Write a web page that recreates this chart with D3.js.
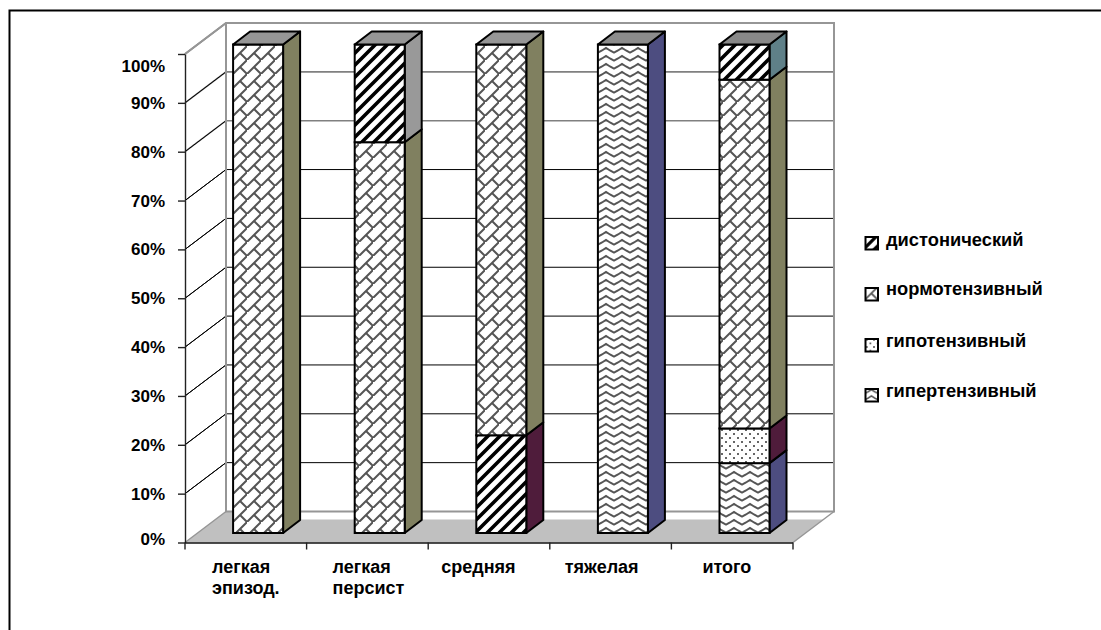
<!DOCTYPE html>
<html>
<head>
<meta charset="utf-8">
<script src="https://cdn.jsdelivr.net/npm/d3@7/dist/d3.min.js"></script>
<style>
  html, body { margin: 0; padding: 0; background: #fff; }
  svg { display: block; }
  text { font-family: "Liberation Sans", Arial, sans-serif; font-weight: bold; fill: #000; }
</style>
</head>
<body>
<svg id="chart" width="1101" height="630"></svg>
<script>
// Chart content
const categories = ["легкая эпизод.", "легкая персист", "средняя", "тяжелая", "итого"];
const categoryLines = [["легкая", "эпизод."], ["легкая", "персист"], ["средняя"], ["тяжелая"], ["итого"]];
const seriesNames = ["гипертензивный", "гипотензивный", "нормотензивный", "дистонический"];
const hypertensive = [0, 0, 0, 100, 14.3];
const hypotensive = [0, 0, 20, 0, 7.1];
const normotensive = [100, 80, 80, 0, 71.4];
const dystonic = [0, 20, 0, 0, 7.2];
const yTicks = [0, 10, 20, 30, 40, 50, 60, 70, 80, 90, 100];

// Series appearance
const facePattern = { "гипертензивный": "wave", "гипотензивный": "dots", "нормотензивный": "brick", "дистонический": "stripes" };
const sideColor = { "гипертензивный": "#4d4d80", "гипотензивный": "#4f1c3b", "нормотензивный": "#808060", "дистонический": "#999999" };
// Individual points that carry their own formatting in the stack
const pointFace = { "гипотензивный|средняя": "stripes" };
const pointSide = { "дистонический|итого": "#5f8088" };
const topFaceColor = ["#969696", "#969696", "#969696", "#8c8c8c", "#888888"];
const labelInset = [27, 26, 13, 15, 31];
const softGridTicks = [80, 90, 100];

// Layout of the oblique box
const depth = { dx: 41, dy: 31 };
const barDepth = { dx: 17, dy: 13 };
const barShift = { dx: 12.3, dy: 9.5 };

const rows = categories.map((c, i) => ({
  category: c,
  "гипертензивный": hypertensive[i],
  "гипотензивный": hypotensive[i],
  "нормотензивный": normotensive[i],
  "дистонический": dystonic[i]
}));

const x = d3.scaleBand().domain(categories).range([185, 793]).paddingInner(0).paddingOuter(0);
const y = d3.scaleLinear().domain([0, 100]).range([542.5, 54]);
const barWidth = 50;
const barX = c => x(c) + x.bandwidth() / 2 - barWidth / 2 + barShift.dx;

const svg = d3.select("#chart");
const defs = svg.append("defs");

function addPattern(id, w, h, transform, draw) {
  const p = defs.append("pattern").attr("id", id)
    .attr("patternUnits", "userSpaceOnUse").attr("width", w).attr("height", h);
  if (transform) p.attr("patternTransform", transform);
  p.append("rect").attr("width", w).attr("height", h).attr("fill", "#fff");
  draw(p);
}
function stripes(p) {
  p.append("path").attr("d", "M-3,3L3,-3M-2,14L14,-2M9,15L15,9")
    .attr("stroke", "#000").attr("stroke-width", 3.6).attr("fill", "none");
}
// One long rising course per tile, with a staggered short joint between courses
function brick(p) {
  p.append("path").attr("d", "M-2,16L16,-2M7,7L14,14")
    .attr("stroke", "#555").attr("stroke-width", 2).attr("fill", "none");
}
function wave(p) {
  p.append("path").attr("d", "M-1,7L0,6.5L4,4.5L8,2L12,4.5L16,6.5L17,7")
    .attr("stroke", "#555").attr("stroke-width", 2).attr("fill", "none");
}
function dots(p) {
  [[1, 1], [5, 5]].forEach(d => p.append("rect")
    .attr("x", d[0]).attr("y", d[1]).attr("width", 2).attr("height", 2).attr("fill", "#666"));
}
addPattern("stripes", 12, 12, null, stripes);
addPattern("brick", 14, 14, "translate(233,46)", brick);
addPattern("wave", 16, 8, "translate(598,46)", wave);
addPattern("dots", 8, 8, "translate(720,428)", dots);
addPattern("stripes-key", 12, 12, "translate(865,237) scale(0.9)", stripes);
addPattern("brick-key", 14, 14, "translate(865,287) scale(0.9)", brick);
addPattern("dots-key", 8, 8, "translate(865,338) scale(0.9)", dots);
addPattern("wave-key", 16, 8, "translate(865,388) scale(0.8)", wave);

// Outer frame: only the top and left edges fall inside the page
svg.append("path").attr("d", "M1101,10.5H9.5V630").attr("fill", "none").attr("stroke", "#000").attr("stroke-width", 2);

// Floor of the box
const wall = { left: 185 + depth.dx, right: 793 + depth.dx, top: y(100) - depth.dy, bottom: y(0) - depth.dy };
svg.append("polygon").attr("fill", "#c0c0c0").attr("points", [
  [185, y(0)], [wall.left, wall.bottom], [240, wall.bottom], [240, wall.bottom + 8],
  [wall.right - 11, wall.bottom + 8], [793, y(0)]
].join(" "));

// Gridlines run up the left side wall and across the back wall
svg.append("g").selectAll("path").data(yTicks.filter(t => t > 0)).join("path")
  .attr("fill", "none")
  .attr("stroke", t => softGridTicks.includes(t) ? "#808080" : "#000")
  .attr("stroke-width", t => softGridTicks.includes(t) ? 1.6 : 1)
  .attr("d", t => `M185,${y(t)}L${wall.left},${y(t) - depth.dy}H${wall.right}`);
svg.append("g").selectAll("path").data(yTicks.filter(t => t > 0 && t < 100)).join("path")
  .attr("fill", "none").attr("stroke", "#000").attr("stroke-width", 1)
  .attr("d", t => `M185,${y(t)}L${wall.left},${y(t) - depth.dy}`);

// Wall outline
svg.append("path").attr("fill", "none").attr("stroke", "#969696").attr("stroke-width", 2)
  .attr("d", `M185,${y(100)}L${wall.left},${wall.top}H${wall.right}V${wall.bottom}H${wall.left}V${wall.top}`);
svg.append("path").attr("fill", "none").attr("stroke", "#969696").attr("stroke-width", 1.5)
  .attr("d", `M185,${y(0)}L${wall.left},${wall.bottom}M${wall.right},${wall.bottom}L793,${y(0)}`);

// Stacked bars, drawn segment by segment with their oblique side and top
const stacked = d3.stack().keys(seriesNames)(rows);
const barLayer = svg.append("g");
categories.forEach((c, i) => {
  const bx = barX(c);
  const g = barLayer.append("g");
  const segs = stacked
    .map(s => ({ name: s.key, v0: s[i][0], v1: s[i][1] }))
    .filter(s => s.v1 > s.v0);
  const py = v => y(v) - barShift.dy;
  segs.forEach(s => {
    const key = s.name + "|" + c;
    g.append("polygon")
      .attr("points", [[bx + barWidth, py(s.v0)], [bx + barWidth + barDepth.dx, py(s.v0) - barDepth.dy],
        [bx + barWidth + barDepth.dx, py(s.v1) - barDepth.dy], [bx + barWidth, py(s.v1)]].join(" "))
      .attr("fill", pointSide[key] || sideColor[s.name])
      .attr("stroke", "#000").attr("stroke-width", 2).attr("stroke-linejoin", "round");
    g.append("rect")
      .attr("x", bx).attr("y", py(s.v1)).attr("width", barWidth).attr("height", py(s.v0) - py(s.v1))
      .attr("fill", `url(#${pointFace[key] || facePattern[s.name]})`)
      .attr("stroke", "#000").attr("stroke-width", 2);
  });
  g.append("polygon")
    .attr("points", [[bx, py(100)], [bx + barDepth.dx, py(100) - barDepth.dy],
      [bx + barWidth + barDepth.dx, py(100) - barDepth.dy], [bx + barWidth, py(100)]].join(" "))
    .attr("fill", topFaceColor[i]).attr("stroke", "#000").attr("stroke-width", 2).attr("stroke-linejoin", "round");
});

// Value axis
const yAxis = svg.append("g").attr("transform", "translate(185,0)")
  .call(d3.axisLeft(y).tickValues(yTicks).tickFormat(d => d + "%").tickSize(7).tickSizeOuter(0).tickPadding(13));
yAxis.select(".domain").attr("stroke", "#222").attr("stroke-width", 1.4);
yAxis.selectAll(".tick line").attr("stroke", "#222").attr("stroke-width", 1.4);
yAxis.selectAll(".tick text")
  .attr("font-size", 17).attr("font-family", null)
  .attr("transform", d => d === 100 ? "translate(0,12)" : d === 0 ? "translate(0,-3)" : null);

// Category axis along the front of the floor
svg.append("path").attr("fill", "none").attr("stroke", "#111").attr("stroke-width", 1.4)
  .attr("d", `M185,${y(0) + 0.5}H793`);
const xTickValues = categories.map(c => x(c)).concat(793);
svg.append("g").selectAll("line").data(xTickValues).join("line")
  .attr("x1", d => d).attr("x2", d => d).attr("y1", y(0)).attr("y2", y(0) + 7)
  .attr("stroke", "#222").attr("stroke-width", 1.4);
svg.append("g").selectAll("text").data(categories).join("text")
  .attr("font-size", 18)
  .each(function (c, i) {
    d3.select(this).selectAll("tspan").data(categoryLines[i]).join("tspan")
      .attr("x", x(c) + labelInset[i])
      .attr("y", (d, j) => 573 + j * 21)
      .text(d => d);
  });

// Legend
const legendRows = [
  { name: "дистонический", pattern: "stripes-key", box: 237, base: 246 },
  { name: "нормотензивный", pattern: "brick-key", box: 288, base: 295 },
  { name: "гипотензивный", pattern: "dots-key", box: 339, base: 347 },
  { name: "гипертензивный", pattern: "wave-key", box: 389, base: 397 }
];
const legend = svg.append("g");
legend.selectAll("rect").data(legendRows).join("rect")
  .attr("x", 865.5).attr("y", d => d.box).attr("width", 12.5).attr("height", 12.5)
  .attr("fill", d => `url(#${d.pattern})`).attr("stroke", "#000").attr("stroke-width", 2);
legend.selectAll("text").data(legendRows).join("text")
  .attr("x", 886).attr("y", d => d.base).attr("font-size", 18.3).text(d => d.name);
</script>
</body>
</html>
